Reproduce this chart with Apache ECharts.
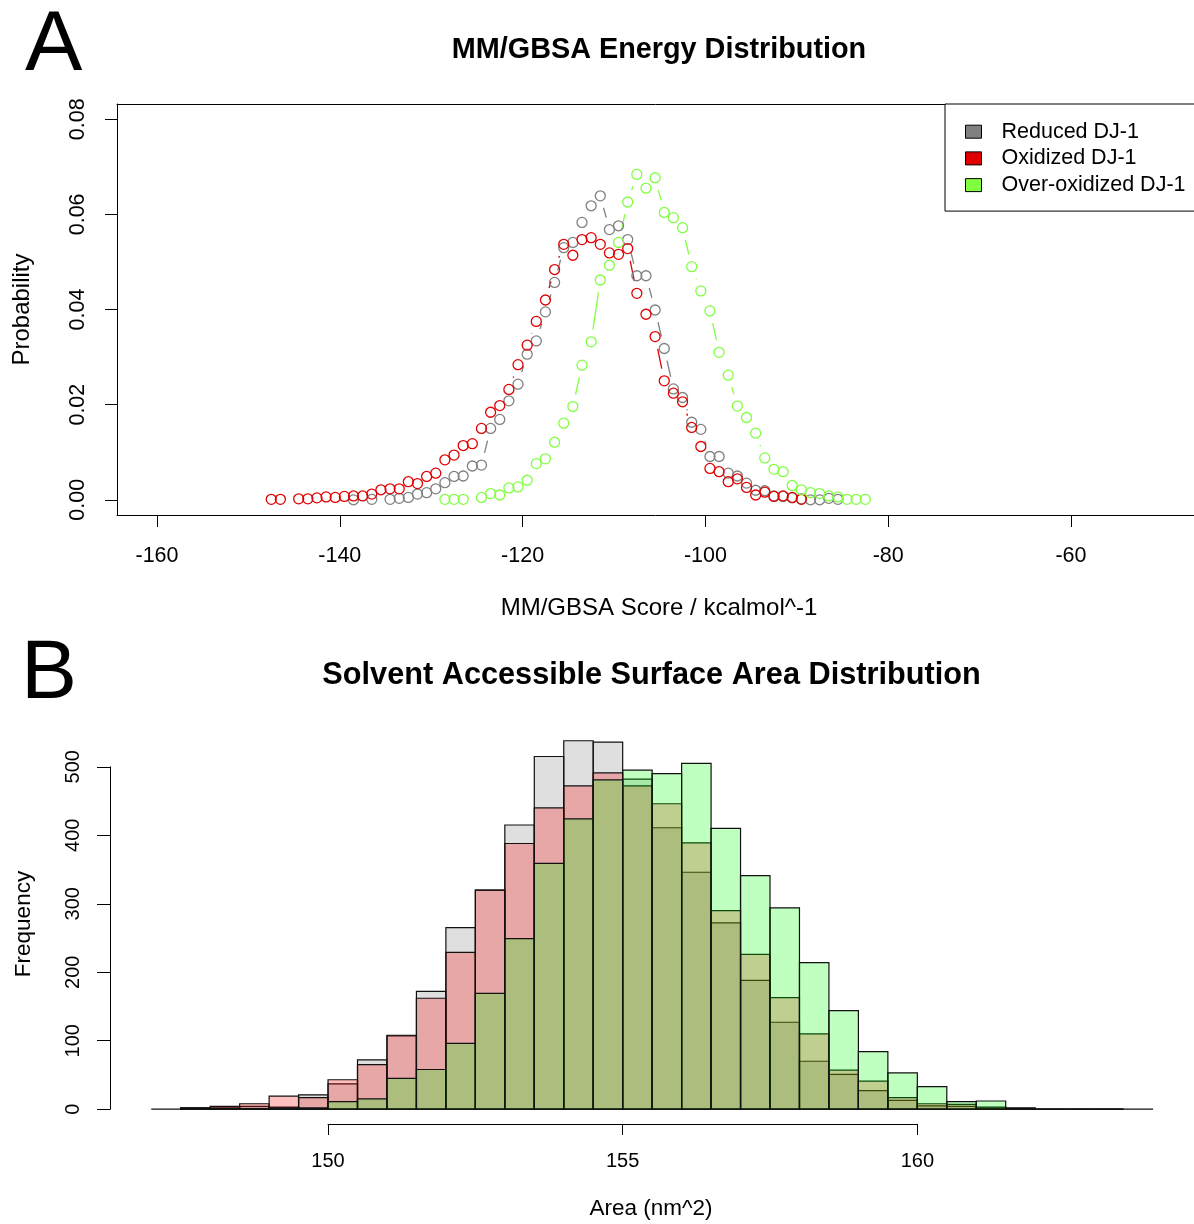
<!DOCTYPE html>
<html><head><meta charset="utf-8">
<script src="https://cdn.jsdelivr.net/npm/echarts@6/dist/echarts.min.js"></script>
<style>html,body{margin:0;padding:0;background:#fff}#c{width:1194px;height:1224px}</style>
</head><body><div id="c"></div><script>
// ---------- Panel A data (MM/GBSA energy, bin centres) ----------
const energyBins = [-147.5,-146.5,-145.5,-144.5,-143.5,-142.5,-141.5,-140.5,-139.5,-138.5,-137.5,-136.5,-135.5,-134.5,-133.5,-132.5,-131.5,-130.5,-129.5,-128.5,-127.5,-126.5,-125.5,-124.5,-123.5,-122.5,-121.5,-120.5,-119.5,-118.5,-117.5,-116.5,-115.5,-114.5,-113.5,-112.5,-111.5,-110.5,-109.5,-108.5,-107.5,-106.5,-105.5,-104.5,-103.5,-102.5,-101.5,-100.5,-99.5,-98.5,-97.5,-96.5,-95.5,-94.5,-93.5,-92.5,-91.5,-90.5,-89.5,-88.5,-87.5,-86.5,-85.5,-84.5,-83.5,-82.5];
const reducedProb = [null,null,null,null,null,null,null,null,null,0.0000,null,0.0001,null,0.0001,0.0003,0.0005,0.0012,0.0015,0.0023,0.0036,0.0049,0.0050,0.0071,0.0073,0.0150,0.0169,0.0208,0.0243,0.0306,0.0334,0.0395,0.0457,0.0530,0.0541,0.0583,0.0618,0.0639,0.0568,0.0576,0.0547,0.0471,0.0471,0.0399,0.0318,0.0233,0.0215,0.0163,0.0148,0.0091,0.0091,0.0056,0.0050,0.0035,0.0020,0.0019,0.0008,0.0007,0.0004,0.0002,0.0000,0.0000,0.0003,0.0001,null,null,null];
const oxidizedProb = [0.0001,0.0001,null,0.0002,0.0002,0.0004,0.0006,0.0005,0.0007,0.0008,0.0008,0.0012,0.0021,0.0023,0.0023,0.0038,0.0034,0.0049,0.0056,0.0084,0.0094,0.0114,0.0118,0.0150,0.0184,0.0198,0.0232,0.0284,0.0325,0.0375,0.0420,0.0484,0.0537,0.0514,0.0547,0.0551,0.0537,0.0519,0.0516,0.0528,0.0434,0.0390,0.0343,0.0250,0.0224,0.0206,0.0152,0.0112,0.0066,0.0059,0.0038,0.0044,0.0026,0.0010,0.0016,0.0007,0.0008,0.0005,0.0001,null,null,null,null,null,null,null];
const overOxidizedProb = [null,null,null,null,null,null,null,null,null,null,null,null,null,null,null,null,null,null,null,0.0001,0.0001,0.0001,null,0.0005,0.0013,0.0010,0.0025,0.0027,0.0041,0.0076,0.0086,0.0121,0.0161,0.0196,0.0283,0.0332,0.0462,0.0493,0.0541,0.0626,0.0684,0.0655,0.0677,0.0604,0.0593,0.0572,0.0490,0.0439,0.0397,0.0310,0.0262,0.0197,0.0173,0.0140,0.0088,0.0064,0.0059,0.0030,0.0021,0.0015,0.0013,0.0008,0.0006,0.0001,0.0001,0.0001];
const energyTicks = [-160,-140,-120,-100,-80,-60];
const probTicks = [0,0.02,0.04,0.06,0.08];

// ---------- Panel B data (SASA histogram) ----------
const areaBinEdges = [147,147.5,148,148.5,149,149.5,150,150.5,151,151.5,152,152.5,153,153.5,154,154.5,155,155.5,156,156.5,157,157.5,158,158.5,159,159.5,160,160.5,161,161.5,162,162.5,163,163.5,164];
const reducedFreq = [0,2,2,4,3,21,37,72,107,172,265,320,415,515,538,536,482,411,346,272,188,127,70,51,27,13,5,4,2,1,0,0,0,0];
const oxidizedFreq = [null,2,4,8,19,17,43,65,108,162,229,320,388,440,472,491,472,446,389,290,226,163,110,57,41,17,8,7,3,1,0,0,0,null];
const overOxidizedFreq = [null,1,1,1,2,2,11,15,45,58,96,169,249,359,424,481,495,490,505,410,341,294,214,144,84,53,33,11,12,2,0,0,0,null];
const areaTicks = [150,155,160];
const freqTicks = [0,100,200,300,400,500];

const seriesNames = ['Reduced DJ-1','Oxidized DJ-1','Over-oxidized DJ-1'];

// ---------- styles / layout ----------
const FONT = 'Liberation Sans, Arial, Helvetica, sans-serif';
const lineColors = ['#808080','#e00000','#80ff40'];
const histFills = ['rgba(128,128,128,0.25)','rgba(255,0,0,0.25)','rgba(0,255,0,0.25)'];
const GAP = 12.5;

const A = {left:117, top:104, width:1077, height:411, xmin:-164.376, xmax:-46.543, ymin:-0.0032, ymax:0.0832};
const B = {left:110, top:724.6, width:1081, height:399.4, xmin:146.30, xmax:164.644, ymin:-21.6, ymax:561.6};
const xB = v => B.left + (v - B.xmin) / (B.xmax - B.xmin) * B.width;
const yB = v => B.top + (B.ymax - v) / (B.ymax - B.ymin) * B.height;

const chart = echarts.init(document.getElementById('c'), null, {renderer:'canvas'});

const probSets = [reducedProb, oxidizedProb, overOxidizedProb];
const freqSets = [reducedFreq, oxidizedFreq, overOxidizedFreq];

function segData(vals){
  const out = [];
  for (let i = 0; i < vals.length - 1; i++) {
    if (vals[i] != null && vals[i+1] != null) out.push([energyBins[i], vals[i], energyBins[i+1], vals[i+1]]);
  }
  return out;
}
function ptData(vals){
  const out = [];
  vals.forEach((v,i)=>{ if (v != null) out.push([energyBins[i], v]); });
  return out;
}
function histData(vals){
  const out = [];
  vals.forEach((v,i)=>{ if (v != null) out.push([areaBinEdges[i], areaBinEdges[i+1], v]); });
  return out;
}

const series = [];
// segments (type="b" style lines with gaps around points)
probSets.forEach((vals, k) => {
  series.push({
    type:'custom', name:'seg'+k, xAxisIndex:0, yAxisIndex:0, silent:true, z:2,
    encode:{x:[0,2], y:[1,3]},
    data: segData(vals),
    renderItem: (params, api) => {
      const a = api.coord([api.value(0), api.value(1)]);
      const b = api.coord([api.value(2), api.value(3)]);
      const dx = b[0]-a[0], dy = b[1]-a[1], len = Math.hypot(dx, dy);
      if (len <= 2*GAP) return null;
      const ux = dx/len, uy = dy/len;
      return {type:'line', shape:{x1:a[0]+ux*GAP, y1:a[1]+uy*GAP, x2:b[0]-ux*GAP, y2:b[1]-uy*GAP},
        style:{stroke: lineColors[k], lineWidth:1.3}};
    }
  });
});
// hollow circles
probSets.forEach((vals, k) => {
  series.push({
    type:'scatter', name: seriesNames[k], xAxisIndex:0, yAxisIndex:0, z:3, silent:true,
    symbol:'circle', symbolSize:10,
    itemStyle:{color:'rgba(0,0,0,0)', borderColor: lineColors[k], borderWidth:1.3, opacity:1},
    emphasis:{disabled:true},
    data: ptData(vals)
  });
});
// histograms
freqSets.forEach((vals, k) => {
  series.push({
    type:'custom', name:'hist'+k, xAxisIndex:1, yAxisIndex:1, silent:true, z:2+k,
    encode:{x:[0,1], y:2},
    data: histData(vals),
    renderItem: (params, api) => {
      const p0 = api.coord([api.value(0), api.value(2)]);
      const p1 = api.coord([api.value(1), 0]);
      return {type:'rect', shape:{x:p0[0], y:p0[1], width:p1[0]-p0[0], height:p1[1]-p0[1]},
        style:{fill: histFills[k], stroke:'#111', lineWidth:1.2}};
    }
  });
});

const tickStyle = {lineStyle:{color:'#000', width:1}};
const boxLine = {show:true, onZero:false, lineStyle:{color:'#000', width:1}};
const option = {
  animation:false,
  backgroundColor:'#fff',
  textStyle:{fontFamily:FONT, color:'#000'},
  grid:[
    {left:A.left, top:A.top, width:A.width, height:A.height},
    {left:B.left, top:B.top, width:B.width, height:B.height},
    {left:B.left, top:yB(500), width:1, height:yB(0)-yB(500)},
    {left:xB(150), top:1123, width:xB(160)-xB(150), height:1}
  ],
  xAxis:[
    {gridIndex:0, type:'value', position:'bottom', min:A.xmin, max:A.xmax, axisLine:boxLine, splitLine:{show:false},
     axisTick:{show:true, length:12, customValues:energyTicks, ...tickStyle},
     axisLabel:{customValues:energyTicks, fontSize:21.5, color:'#000', margin:30, fontFamily:FONT}},
    {gridIndex:1, type:'value', min:B.xmin, max:B.xmax, show:false},
    {gridIndex:2, type:'value', min:0, max:1, show:false},
    {gridIndex:3, type:'value', min:150, max:160, interval:5, splitLine:{show:false},
     axisLine:{show:true, lineStyle:{color:'#000', width:1}},
     axisTick:{show:true, length:11, ...tickStyle},
     axisLabel:{fontSize:20, color:'#000', margin:27, fontFamily:FONT, customValues:areaTicks}},
    {gridIndex:0, type:'value', position:'top', min:A.xmin, max:A.xmax, axisLine:boxLine,
     axisTick:{show:false}, axisLabel:{show:false}, splitLine:{show:false}}
  ],
  yAxis:[
    {gridIndex:0, type:'value', position:'left', min:A.ymin, max:A.ymax, axisLine:boxLine, splitLine:{show:false},
     axisTick:{show:true, length:12, customValues:probTicks, ...tickStyle},
     axisLabel:{customValues:probTicks, rotate:90, fontSize:21.5, color:'#000', margin:28, fontFamily:FONT,
       formatter: v => Number(v).toFixed(2)}},
    {gridIndex:1, type:'value', min:B.ymin, max:B.ymax, show:false},
    {gridIndex:2, type:'value', min:0, max:500, interval:100, splitLine:{show:false},
     axisLine:{show:true, lineStyle:{color:'#000', width:1}},
     axisTick:{show:true, length:13, ...tickStyle},
     axisLabel:{rotate:90, fontSize:20, color:'#000', margin:27, fontFamily:FONT, customValues:freqTicks}},
    {gridIndex:3, type:'value', min:0, max:1, show:false}
  ],
  legend:{
    left:945, top:104, orient:'vertical', icon:'rect', itemWidth:16, itemHeight:13, itemGap:4.7,
    padding:[16.7, 30, 15, 20], borderColor:'#000', borderWidth:1, backgroundColor:'#fff',
    selectedMode:false,
    textStyle:{fontSize:21.5, fontFamily:FONT, color:'#000', lineHeight:22, padding:[0,0,0,15]},
    data: seriesNames.map((n,i)=>({name:n, itemStyle:{color:lineColors[i], borderColor:'#000', borderWidth:1}}))
  },
  graphic:[
    {type:'text', x:25, y:46, style:{text:'A', font:'86px '+FONT, fill:'#000', textAlign:'left', textVerticalAlign:'middle'}},
    {type:'text', x:21, y:675, style:{text:'B', font:'84px '+FONT, fill:'#000', textAlign:'left', textVerticalAlign:'middle'}},
    {type:'text', x:659, y:50, style:{text:'MM/GBSA Energy Distribution', font:'bold 28.8px '+FONT, fill:'#000', textAlign:'center', textVerticalAlign:'middle'}},
    {type:'text', x:651.5, y:676, style:{text:'Solvent Accessible Surface Area Distribution', font:'bold 30.7px '+FONT, fill:'#000', textAlign:'center', textVerticalAlign:'middle'}},
    {type:'text', x:659, y:608, style:{text:'MM/GBSA Score / kcalmol^-1', font:'24px '+FONT, fill:'#000', textAlign:'center', textVerticalAlign:'middle'}},
    {type:'text', x:22, y:309.5, rotation:Math.PI/2, style:{text:'Probability', font:'24px '+FONT, fill:'#000', textAlign:'center', textVerticalAlign:'middle'}},
    {type:'text', x:651, y:1209, style:{text:'Area (nm^2)', font:'22.5px '+FONT, fill:'#000', textAlign:'center', textVerticalAlign:'middle'}},
    {type:'text', x:24, y:924, rotation:Math.PI/2, style:{text:'Frequency', font:'22.5px '+FONT, fill:'#000', textAlign:'center', textVerticalAlign:'middle'}}
  ],
  series
};
chart.setOption(option);
</script></body></html>
